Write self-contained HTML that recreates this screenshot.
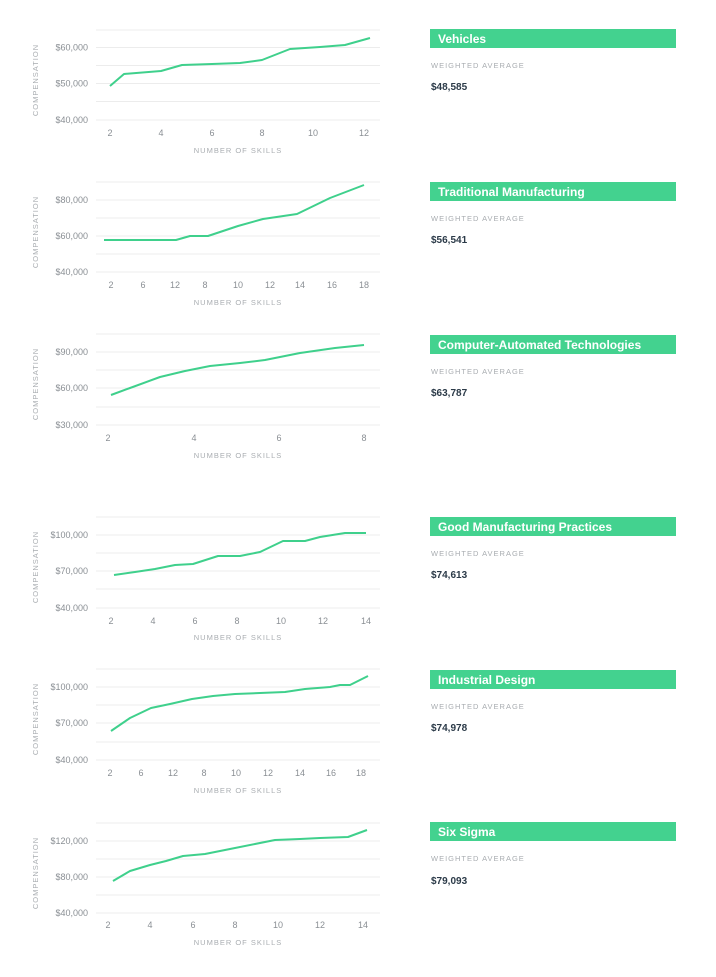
<!DOCTYPE html>
<html><head><meta charset="utf-8"><style>
html,body{margin:0;padding:0;background:#fff;width:716px;height:977px;overflow:hidden}
svg{display:block}
text{font-family:"Liberation Sans",sans-serif}
.g{stroke:#ececec;stroke-width:1}
.yl{font-size:9px;fill:#8a8f94;text-anchor:end}
.xl{font-size:9px;fill:#8a8f94;text-anchor:middle}
.at{font-size:7.5px;fill:#a9adb1;letter-spacing:1px;text-anchor:middle}
.ln{fill:none;stroke:#3fd08c;stroke-width:2;stroke-linejoin:round}
.tt{font-size:12px;fill:#fff;font-weight:bold}
.wa{font-size:7.5px;fill:#a9adb1;letter-spacing:1px}
.vv{font-size:10px;fill:#2b3a48;font-weight:bold}
</style></head><body>
<svg width="716" height="977" viewBox="0 0 716 977">
<g id="c1">
<g class="g"><line x1="96" x2="380" y1="30" y2="30"/><line x1="96" x2="380" y1="47.5" y2="47.5"/><line x1="96" x2="380" y1="65.5" y2="65.5"/><line x1="96" x2="380" y1="83.5" y2="83.5"/><line x1="96" x2="380" y1="101.5" y2="101.5"/><line x1="96" x2="380" y1="120" y2="120"/></g>
<text class="yl" x="88" y="50.5">$60,000</text><text class="yl" x="88" y="86.5">$50,000</text><text class="yl" x="88" y="123">$40,000</text>
<text class="at" transform="translate(38,80) rotate(-90)">COMPENSATION</text>
<text class="xl" x="110" y="136">2</text><text class="xl" x="161" y="136">4</text><text class="xl" x="212" y="136">6</text><text class="xl" x="262" y="136">8</text><text class="xl" x="313" y="136">10</text><text class="xl" x="364" y="136">12</text>
<text class="at" x="238" y="153">NUMBER OF SKILLS</text>
<polyline class="ln" points="110,86 124,74 161,71 182,65 212,64 240,63 262,60 290,49 320,47 345,45 370,38"/>
<rect x="430" y="29" width="246" height="19" fill="#43d28f"/><text class="tt" x="438" y="43">Vehicles</text>
<text class="wa" x="431" y="68">WEIGHTED AVERAGE</text><text class="vv" x="431" y="90">$48,585</text>
</g>

<g id="c2">
<g class="g"><line x1="96" x2="380" y1="182" y2="182"/><line x1="96" x2="380" y1="200" y2="200"/><line x1="96" x2="380" y1="218" y2="218"/><line x1="96" x2="380" y1="236" y2="236"/><line x1="96" x2="380" y1="254" y2="254"/><line x1="96" x2="380" y1="272" y2="272"/></g>
<text class="yl" x="88" y="203">$80,000</text><text class="yl" x="88" y="239">$60,000</text><text class="yl" x="88" y="275">$40,000</text>
<text class="at" transform="translate(38,232) rotate(-90)">COMPENSATION</text>
<text class="xl" x="111" y="288">2</text><text class="xl" x="143" y="288">6</text><text class="xl" x="175" y="288">12</text><text class="xl" x="205" y="288">8</text><text class="xl" x="238" y="288">10</text><text class="xl" x="270" y="288">12</text><text class="xl" x="300" y="288">14</text><text class="xl" x="332" y="288">16</text><text class="xl" x="364" y="288">18</text>
<text class="at" x="238" y="305">NUMBER OF SKILLS</text>
<polyline class="ln" points="104,240 176,240 190,236 208,236 238,226 263,219 297,214 330,198 364,185"/>
<rect x="430" y="182" width="246" height="19" fill="#43d28f"/><text class="tt" x="438" y="196">Traditional Manufacturing</text>
<text class="wa" x="431" y="221">WEIGHTED AVERAGE</text><text class="vv" x="431" y="243">$56,541</text>
</g>

<g id="c3">
<g class="g"><line x1="96" x2="380" y1="334" y2="334"/><line x1="96" x2="380" y1="352" y2="352"/><line x1="96" x2="380" y1="370" y2="370"/><line x1="96" x2="380" y1="388" y2="388"/><line x1="96" x2="380" y1="407" y2="407"/><line x1="96" x2="380" y1="425" y2="425"/></g>
<text class="yl" x="88" y="355">$90,000</text><text class="yl" x="88" y="391">$60,000</text><text class="yl" x="88" y="428">$30,000</text>
<text class="at" transform="translate(38,384) rotate(-90)">COMPENSATION</text>
<text class="xl" x="108" y="441">2</text><text class="xl" x="194" y="441">4</text><text class="xl" x="279" y="441">6</text><text class="xl" x="364" y="441">8</text>
<text class="at" x="238" y="458">NUMBER OF SKILLS</text>
<polyline class="ln" points="111,395 130,388 160,377 185,371 210,366 240,363 265,360 300,353 335,348 364,345"/>
<rect x="430" y="335" width="246" height="19" fill="#43d28f"/><text class="tt" x="438" y="349">Computer-Automated Technologies</text>
<text class="wa" x="431" y="374">WEIGHTED AVERAGE</text><text class="vv" x="431" y="396">$63,787</text>
</g>

<g id="c4">
<g class="g"><line x1="96" x2="380" y1="517" y2="517"/><line x1="96" x2="380" y1="535" y2="535"/><line x1="96" x2="380" y1="553" y2="553"/><line x1="96" x2="380" y1="571" y2="571"/><line x1="96" x2="380" y1="589" y2="589"/><line x1="96" x2="380" y1="608" y2="608"/></g>
<text class="yl" x="88" y="538">$100,000</text><text class="yl" x="88" y="574">$70,000</text><text class="yl" x="88" y="611">$40,000</text>
<text class="at" transform="translate(38,567) rotate(-90)">COMPENSATION</text>
<text class="xl" x="111" y="624">2</text><text class="xl" x="153" y="624">4</text><text class="xl" x="195" y="624">6</text><text class="xl" x="237" y="624">8</text><text class="xl" x="281" y="624">10</text><text class="xl" x="323" y="624">12</text><text class="xl" x="366" y="624">14</text>
<text class="at" x="238" y="640">NUMBER OF SKILLS</text>
<polyline class="ln" points="114,575 135,572 155,569 175,565 193,564 218,556 240,556 260,552 283,541 305,541 320,537 345,533 366,533"/>
<rect x="430" y="517" width="246" height="19" fill="#43d28f"/><text class="tt" x="438" y="531">Good Manufacturing Practices</text>
<text class="wa" x="431" y="556">WEIGHTED AVERAGE</text><text class="vv" x="431" y="578">$74,613</text>
</g>

<g id="c5">
<g class="g"><line x1="96" x2="380" y1="669" y2="669"/><line x1="96" x2="380" y1="687" y2="687"/><line x1="96" x2="380" y1="705" y2="705"/><line x1="96" x2="380" y1="723" y2="723"/><line x1="96" x2="380" y1="742" y2="742"/><line x1="96" x2="380" y1="760" y2="760"/></g>
<text class="yl" x="88" y="690">$100,000</text><text class="yl" x="88" y="726">$70,000</text><text class="yl" x="88" y="763">$40,000</text>
<text class="at" transform="translate(38,719) rotate(-90)">COMPENSATION</text>
<text class="xl" x="110" y="776">2</text><text class="xl" x="141" y="776">6</text><text class="xl" x="173" y="776">12</text><text class="xl" x="204" y="776">8</text><text class="xl" x="236" y="776">10</text><text class="xl" x="268" y="776">12</text><text class="xl" x="300" y="776">14</text><text class="xl" x="331" y="776">16</text><text class="xl" x="361" y="776">18</text>
<text class="at" x="238" y="793">NUMBER OF SKILLS</text>
<polyline class="ln" points="111,731 130,718 151,708 170,704 192,699 213,696 235,694 260,693 285,692 305,689 330,687 340,685 350,685 368,676"/>
<rect x="430" y="670" width="246" height="19" fill="#43d28f"/><text class="tt" x="438" y="684">Industrial Design</text>
<text class="wa" x="431" y="709">WEIGHTED AVERAGE</text><text class="vv" x="431" y="731">$74,978</text>
</g>

<g id="c6">
<g class="g"><line x1="96" x2="380" y1="823" y2="823"/><line x1="96" x2="380" y1="841" y2="841"/><line x1="96" x2="380" y1="859" y2="859"/><line x1="96" x2="380" y1="877" y2="877"/><line x1="96" x2="380" y1="895" y2="895"/><line x1="96" x2="380" y1="913" y2="913"/></g>
<text class="yl" x="88" y="844">$120,000</text><text class="yl" x="88" y="880">$80,000</text><text class="yl" x="88" y="916">$40,000</text>
<text class="at" transform="translate(38,873) rotate(-90)">COMPENSATION</text>
<text class="xl" x="108" y="928">2</text><text class="xl" x="150" y="928">4</text><text class="xl" x="193" y="928">6</text><text class="xl" x="235" y="928">8</text><text class="xl" x="278" y="928">10</text><text class="xl" x="320" y="928">12</text><text class="xl" x="363" y="928">14</text>
<text class="at" x="238" y="945">NUMBER OF SKILLS</text>
<polyline class="ln" points="113,881 130,871 150,865 166,861 183,856 205,854 230,849 275,840 300,839 320,838 348,837 367,830"/>
<rect x="430" y="822" width="246" height="19" fill="#43d28f"/><text class="tt" x="438" y="836">Six Sigma</text>
<text class="wa" x="431" y="861">WEIGHTED AVERAGE</text><text class="vv" x="431" y="884">$79,093</text>
</g>
</svg>
</body></html>
